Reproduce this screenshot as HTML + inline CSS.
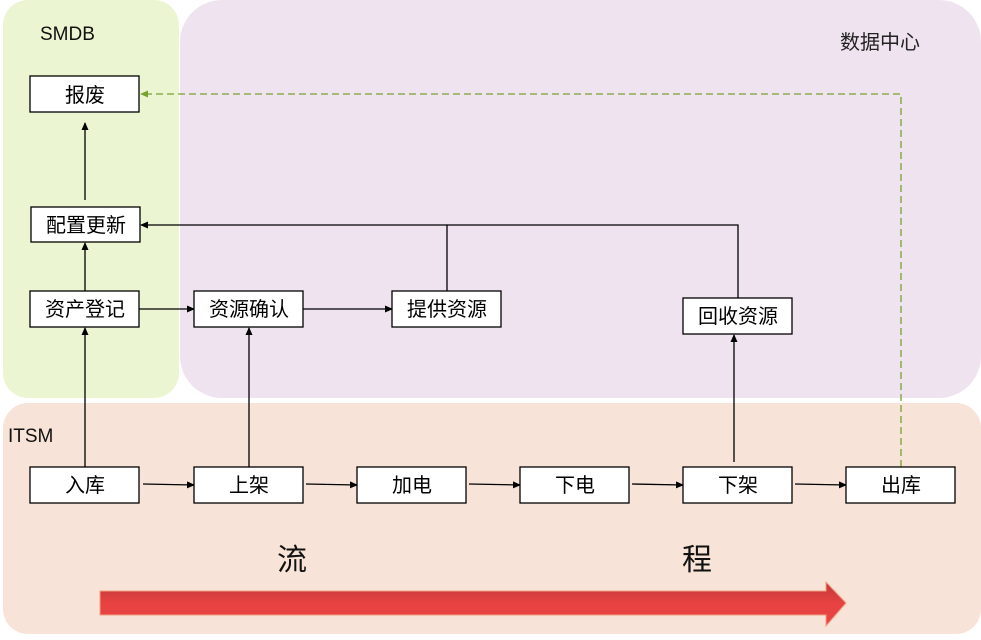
<!DOCTYPE html>
<html><head><meta charset="utf-8"><style>
html,body{margin:0;padding:0;background:#fff;}
svg text{font-family:"Liberation Sans","Noto Sans CJK SC",sans-serif;}
</style></head><body>
<svg width="981" height="635" viewBox="0 0 981 635" xmlns="http://www.w3.org/2000/svg">
<defs>
<marker id="a" markerWidth="8" markerHeight="8" refX="7" refY="4" orient="auto" markerUnits="userSpaceOnUse"><path d="M0,0.5 L8,4 L0,7.5 z" fill="#000"/></marker>
<linearGradient id="rg" x1="0" y1="0" x2="0" y2="1"><stop offset="0" stop-color="#c0393a"/><stop offset="0.5" stop-color="#e84242"/><stop offset="1" stop-color="#e84545"/></linearGradient>
</defs>
<rect x="3" y="0" width="176" height="398" rx="25" fill="#ebf5d2"/>
<rect x="180" y="0" width="801" height="398" rx="42" fill="#efe3ef"/>
<rect x="3" y="403" width="978" height="231" rx="25" fill="#f7e3d7"/>
<text x="40" y="40" font-size="19" fill="#111">SMDB</text>
<text x="840" y="49" font-size="20" fill="#222">数据中心</text>
<text x="8" y="442" font-size="19" fill="#111">ITSM</text>

<g stroke="#000" stroke-width="1.3" fill="none">
<line x1="85" y1="200" x2="85" y2="123" marker-end="url(#a)"/>
<line x1="85" y1="291" x2="85" y2="243" marker-end="url(#a)"/>
<line x1="85" y1="467" x2="85" y2="328" marker-end="url(#a)"/>
<line x1="249" y1="467" x2="249" y2="328" marker-end="url(#a)"/>
<line x1="139" y1="309" x2="194" y2="309" marker-end="url(#a)"/>
<line x1="303" y1="309" x2="392" y2="309" marker-end="url(#a)"/>
<polyline points="447,291 447,225 738,225 738,298"/>
<line x1="447" y1="225" x2="141" y2="225" marker-end="url(#a)"/>
<line x1="734" y1="462" x2="734" y2="335" marker-end="url(#a)"/>
<line x1="143" y1="484" x2="194" y2="485" marker-end="url(#a)"/>
<line x1="306" y1="484" x2="357" y2="485" marker-end="url(#a)"/>
<line x1="469" y1="484" x2="520" y2="485" marker-end="url(#a)"/>
<line x1="632" y1="484" x2="683" y2="485" marker-end="url(#a)"/>
<line x1="795" y1="484" x2="846" y2="485" marker-end="url(#a)"/>
</g>
<polyline points="901,467 901,94 147,94" fill="none" stroke="#77a22f" stroke-width="1.3" stroke-dasharray="7,4"/>
<path d="M140,94 L148,90.5 L148,97.5 z" fill="#77a22f"/>

<g fill="#fff" stroke="#000" stroke-width="1.3">
<rect x="30" y="76" width="109" height="36"/>
<rect x="31" y="207" width="109" height="35"/>
<rect x="30" y="291" width="109" height="36"/>
<rect x="194" y="291" width="109" height="36"/>
<rect x="392" y="291" width="109" height="36"/>
<rect x="683" y="298" width="109" height="36"/>
<rect x="30" y="467" width="109" height="36"/>
<rect x="194" y="467" width="109" height="36"/>
<rect x="357" y="467" width="109" height="36"/>
<rect x="520" y="467" width="109" height="36"/>
<rect x="683" y="467" width="109" height="36"/>
<rect x="846" y="467" width="109" height="36"/>
</g>
<g font-size="20" text-anchor="middle" fill="#000">
<text x="85" y="102">报废</text>
<text x="86" y="232">配置更新</text>
<text x="85" y="316">资产登记</text>
<text x="249" y="316">资源确认</text>
<text x="447" y="316">提供资源</text>
<text x="738" y="323">回收资源</text>
<text x="85" y="492">入库</text>
<text x="249" y="492">上架</text>
<text x="412" y="492">加电</text>
<text x="575" y="492">下电</text>
<text x="738" y="492">下架</text>
<text x="901" y="492">出库</text>
</g>
<text x="292" y="570" font-size="30" text-anchor="middle" fill="#111">流</text>
<text x="697" y="570" font-size="30" text-anchor="middle" fill="#111">程</text>
<path d="M100,591 L826,591 L826,582 L846,603 L826,626 L826,615 L100,615 z" fill="url(#rg)" stroke="#f0a080" stroke-width="1"/>
</svg>
</body></html>
